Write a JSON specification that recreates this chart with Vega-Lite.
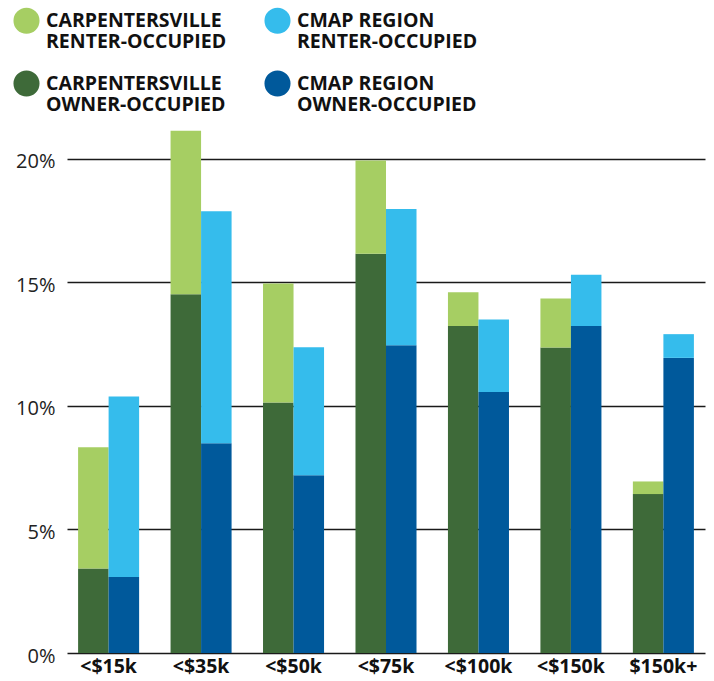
{
  "$schema": "https://vega.github.io/schema/vega-lite/v6.json",
  "autosize": {"type": "none"},
  "padding": {"left": 67, "top": 129, "right": 9, "bottom": 28},
  "width": 638,
  "height": 524,
  "background": "white",
  "config": {"view": {"stroke": null}, "font": "Open Sans"},
  "data": {"values": [
    {"income": "<$15k", "region": "Carpentersville", "tenure": "Owner", "series": "Carpentersville, owner-occupied", "pct": 3.42},
    {"income": "<$15k", "region": "Carpentersville", "tenure": "Renter", "series": "Carpentersville, renter-occupied", "pct": 4.90},
    {"income": "<$15k", "region": "CMAP Region", "tenure": "Owner", "series": "CMAP Region, owner-occupied", "pct": 3.07},
    {"income": "<$15k", "region": "CMAP Region", "tenure": "Renter", "series": "CMAP Region, renter-occupied", "pct": 7.31},
    {"income": "<$35k", "region": "Carpentersville", "tenure": "Owner", "series": "Carpentersville, owner-occupied", "pct": 14.51},
    {"income": "<$35k", "region": "Carpentersville", "tenure": "Renter", "series": "Carpentersville, renter-occupied", "pct": 6.62},
    {"income": "<$35k", "region": "CMAP Region", "tenure": "Owner", "series": "CMAP Region, owner-occupied", "pct": 8.49},
    {"income": "<$35k", "region": "CMAP Region", "tenure": "Renter", "series": "CMAP Region, renter-occupied", "pct": 9.38},
    {"income": "<$50k", "region": "Carpentersville", "tenure": "Owner", "series": "Carpentersville, owner-occupied", "pct": 10.13},
    {"income": "<$50k", "region": "Carpentersville", "tenure": "Renter", "series": "Carpentersville, renter-occupied", "pct": 4.82},
    {"income": "<$50k", "region": "CMAP Region", "tenure": "Owner", "series": "CMAP Region, owner-occupied", "pct": 7.19},
    {"income": "<$50k", "region": "CMAP Region", "tenure": "Renter", "series": "CMAP Region, renter-occupied", "pct": 5.18},
    {"income": "<$75k", "region": "Carpentersville", "tenure": "Owner", "series": "Carpentersville, owner-occupied", "pct": 16.15},
    {"income": "<$75k", "region": "Carpentersville", "tenure": "Renter", "series": "Carpentersville, renter-occupied", "pct": 3.78},
    {"income": "<$75k", "region": "CMAP Region", "tenure": "Owner", "series": "CMAP Region, owner-occupied", "pct": 12.45},
    {"income": "<$75k", "region": "CMAP Region", "tenure": "Renter", "series": "CMAP Region, renter-occupied", "pct": 5.51},
    {"income": "<$100k", "region": "Carpentersville", "tenure": "Owner", "series": "Carpentersville, owner-occupied", "pct": 13.23},
    {"income": "<$100k", "region": "Carpentersville", "tenure": "Renter", "series": "Carpentersville, renter-occupied", "pct": 1.37},
    {"income": "<$100k", "region": "CMAP Region", "tenure": "Owner", "series": "CMAP Region, owner-occupied", "pct": 10.56},
    {"income": "<$100k", "region": "CMAP Region", "tenure": "Renter", "series": "CMAP Region, renter-occupied", "pct": 2.93},
    {"income": "<$150k", "region": "Carpentersville", "tenure": "Owner", "series": "Carpentersville, owner-occupied", "pct": 12.36},
    {"income": "<$150k", "region": "Carpentersville", "tenure": "Renter", "series": "Carpentersville, renter-occupied", "pct": 1.98},
    {"income": "<$150k", "region": "CMAP Region", "tenure": "Owner", "series": "CMAP Region, owner-occupied", "pct": 13.23},
    {"income": "<$150k", "region": "CMAP Region", "tenure": "Renter", "series": "CMAP Region, renter-occupied", "pct": 2.07},
    {"income": "$150k+", "region": "Carpentersville", "tenure": "Owner", "series": "Carpentersville, owner-occupied", "pct": 6.43},
    {"income": "$150k+", "region": "Carpentersville", "tenure": "Renter", "series": "Carpentersville, renter-occupied", "pct": 0.51},
    {"income": "$150k+", "region": "CMAP Region", "tenure": "Owner", "series": "CMAP Region, owner-occupied", "pct": 11.94},
    {"income": "$150k+", "region": "CMAP Region", "tenure": "Renter", "series": "CMAP Region, renter-occupied", "pct": 0.96}
  ]},
  "mark": {"type": "bar"},
  "encoding": {
    "x": {
      "field": "income", "type": "nominal",
      "sort": ["<$15k", "<$35k", "<$50k", "<$75k", "<$100k", "<$150k", "$150k+"],
      "scale": {"paddingInner": 0.34, "paddingOuter": 0.12},
      "axis": {"title": null, "domain": false, "ticks": false, "labelAngle": 0, "labelFontSize": 19.5, "labelFontWeight": "bold", "labelColor": "#111", "labelPadding": 4, "labelFont": "Open Sans"}
    },
    "xOffset": {
      "field": "region", "type": "nominal",
      "sort": ["Carpentersville", "CMAP Region"],
      "scale": {"paddingInner": 0, "paddingOuter": 0}
    },
    "y": {
      "field": "pct", "type": "quantitative", "stack": "zero",
      "scale": {"domain": [0, 21.2], "nice": false},
      "axis": {"title": null, "domain": false, "ticks": false, "values": [0, 5, 10, 15, 20], "labelExpr": "datum.value + '%'", "labelFontSize": 20, "labelColor": "#222", "labelPadding": 12, "labelBaseline": "middle", "labelOffset": 3, "grid": true, "gridColor": "#1a1a1a", "gridWidth": 1.3, "gridOpacity": 1, "labelFont": "Open Sans"}
    },
    "order": {"field": "tenure", "sort": "ascending"},
    "color": {
      "field": "series", "type": "nominal",
      "scale": {
        "domain": ["Carpentersville, renter-occupied", "CMAP Region, renter-occupied", "Carpentersville, owner-occupied", "CMAP Region, owner-occupied"],
        "range": ["#A6CE63", "#35BCEC", "#3E6A39", "#00599B"]
      },
      "legend": {
        "title": null, "orient": "none", "legendX": -54, "legendY": -122,
        "columns": 2, "direction": "horizontal",
        "symbolType": "circle", "symbolSize": 680, "symbolStrokeWidth": 0, "symbolOpacity": 1,
        "labelExpr": "split(upper(datum.label), ', ')",
        "labelFontSize": 19.5, "labelFontWeight": "bold", "labelColor": "#111", "labelFont": "Open Sans",
        "labelLineHeight": 23.5, "labelOffset": 6, "labelLimit": 400,
        "columnPadding": 37, "rowPadding": 18, "padding": 0
      }
    }
  }
}
